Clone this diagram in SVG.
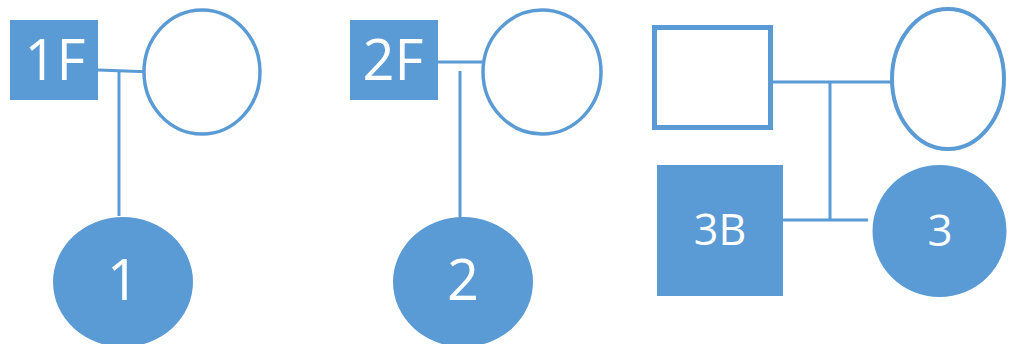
<svg xmlns="http://www.w3.org/2000/svg" width="1014" height="344" viewBox="0 0 1014 344">
<style>
.fill{fill:#5B9BD5}
.open{fill:#ffffff;stroke:#5B9BD5}
.ln{stroke:#5B9BD5;stroke-width:3;fill:none}
.lbl{fill:#ffffff;font-family:"Open Sans","Noto Sans",sans-serif;text-anchor:middle}
</style>
<rect width="1014" height="344" fill="#ffffff"/>
<g id="connectors">
<line class="ln" x1="98" y1="70" x2="153" y2="72"/>
<line class="ln" x1="119" y1="71" x2="119" y2="216"/>
<line class="ln" x1="438" y1="62" x2="483" y2="62"/>
<line class="ln" x1="460" y1="71" x2="460" y2="219"/>
<line class="ln" x1="772" y1="82" x2="891" y2="82"/>
<line class="ln" x1="830" y1="82" x2="830" y2="220"/>
<line class="ln" x1="783" y1="220" x2="868" y2="220"/>
</g>
<g id="n1F">
<rect class="fill" x="10" y="20" width="88" height="80"/>
<text class="lbl" x="55" y="80" font-size="56">1F</text>
</g>
<g id="n1Fspouse">
<ellipse class="open" cx="202" cy="72" rx="58" ry="62" stroke-width="3.5"/>
</g>
<g id="n1">
<ellipse class="fill" cx="123" cy="282" rx="70" ry="65"/>
<text class="lbl" x="123" y="300" font-size="56">1</text>
</g>
<g id="n2F">
<rect class="fill" x="350" y="20" width="88" height="80"/>
<text class="lbl" x="393" y="80" font-size="56">2F</text>
</g>
<g id="n2Fspouse">
<ellipse class="open" cx="542" cy="72" rx="59" ry="62" stroke-width="3.5"/>
</g>
<g id="n2">
<ellipse class="fill" cx="463" cy="282" rx="70" ry="65"/>
<text class="lbl" x="463" y="300" font-size="56">2</text>
</g>
<g id="n3father">
<rect class="open" x="654.5" y="27.5" width="116" height="100" stroke-width="5"/>
</g>
<g id="n3mother">
<ellipse class="open" cx="948" cy="79" rx="56" ry="70" stroke-width="4"/>
</g>
<g id="n3B">
<rect class="fill" x="657" y="165" width="126" height="131"/>
<text class="lbl" x="720" y="245" font-size="43">3B</text>
</g>
<g id="n3">
<ellipse class="fill" cx="939.5" cy="231" rx="67" ry="66"/>
<text class="lbl" x="940" y="246" font-size="44">3</text>
</g>
</svg>
